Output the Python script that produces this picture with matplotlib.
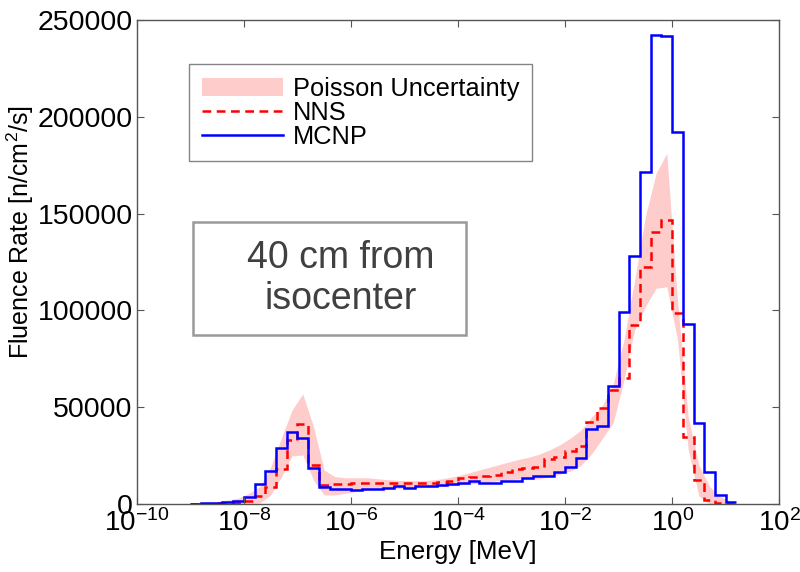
import numpy as np
import matplotlib
matplotlib.use('Agg')
import matplotlib.pyplot as plt
from matplotlib.patches import Rectangle

plt.rcParams['font.family'] = ['Liberation Sans', 'DejaVu Sans']
plt.rcParams['mathtext.fontset'] = 'custom'
plt.rcParams['mathtext.rm'] = 'Liberation Sans'
plt.rcParams['mathtext.it'] = 'Liberation Sans:italic'

## bin edges (log10 of energy in MeV), 0.2 decade bins
log_edges = np.round(np.arange(-9.0, 1.3, 0.2), 1)

## MCNP fluence rate per bin
mcnp = [200, 300, 500, 900, 1300,
	3800, 10200, 17000, 29000, 37000,
	34000, 18400, 9000, 7600, 7600,
	7300, 7500, 7800, 8100, 9300,
	8400, 9300, 9500, 9800, 10300,
	10700, 12000, 11000, 11000, 12000,
	12000, 13300, 14500, 14500, 16700,
	19300, 23600, 38600, 40300, 61000,
	99300, 128000, 171500, 242500, 241500,
	192000, 92800, 42000, 16700, 4700,
	1000]

## NNS unfolded fluence rate per bin
nns = [100, 150, 250, 400, 700,
	1500, 4000, 8600, 18000, 33000,
	41300, 20000, 10000, 10300, 10500,
	10700, 10700, 10800, 10800, 11000,
	11000, 11000, 11000, 11200, 12000,
	13300, 14000, 14200, 15000, 16700,
	17900, 18500, 19300, 23000, 24500,
	27500, 30000, 42500, 49500, 59000,
	65000, 92400, 122600, 140700, 146700,
	98800, 34800, 12400, 2000, 500,
	100]

## Poisson uncertainty band at bin centres
band_hi = [500, 800, 1200, 2000, 3000,
	5500, 9000, 19000, 34000, 48500,
	56800, 40000, 17500, 14100, 13500,
	13500, 13500, 13000, 12500, 12200,
	12000, 12000, 12300, 13000, 14000,
	15300, 16800, 18300, 19800, 21300,
	22800, 24000, 25500, 27800, 30500,
	34000, 38200, 45000, 51000, 62000,
	84700, 115700, 148400, 170800, 181200,
	105000, 45000, 20000, 9000, 3800,
	1200]
band_lo = [0, 0, 0, 0, 0,
	300, 500, 4600, 14000, 24800,
	25300, 12400, 4600, 4600, 5500,
	6500, 7000, 7500, 7800, 8000,
	8200, 8400, 8500, 9000, 9500,
	10000, 10500, 11000, 11800, 12300,
	12800, 12800, 12800, 14000, 15300,
	17000, 20000, 26000, 34000, 42000,
	63900, 89900, 101900, 111400, 112200,
	85000, 28000, 4000, 0, 0,
	0]

edges = 10.0 ** log_edges
centres = 10.0 ** ((log_edges[:-1] + log_edges[1:]) / 2)

fig = plt.figure(figsize=(8, 5.72), dpi=100)
ax = fig.add_axes([0.171, 0.119, 0.803, 0.846])

ax.fill_between(centres, band_lo, band_hi, color='#ffcccc', linewidth=0,
	label='Poisson Uncertainty')
ax.stairs(nns, edges, baseline=None, color='#ff0000', linewidth=1.8,
	linestyle=(0, (3.5, 2.2)), label='NNS')
ax.stairs(mcnp, edges, baseline=None, color='#0000ff', linewidth=1.8,
	label='MCNP')

ax.set_xscale('log')
ax.set_xlim(1e-10, 1e2)
ax.set_ylim(0, 250000)
ax.set_xticks([1e-10, 1e-8, 1e-6, 1e-4, 1e-2, 1e0, 1e2])
ax.xaxis.set_minor_locator(matplotlib.ticker.NullLocator())
ax.set_yticks([0, 50000, 100000, 150000, 200000, 250000])
ax.yaxis.set_major_formatter(matplotlib.ticker.FormatStrFormatter('%d'))
ax.tick_params(direction='in', top=True, right=True, length=5, width=0.8,
	color='#555555')
ax.tick_params(axis='x', labelsize=20, pad=4)
ax.tick_params(axis='y', labelsize=20.5, pad=3)
for s in ax.spines.values():
	s.set_color('#555555')
	s.set_linewidth(1.0)

ax.set_xlabel('Energy [MeV]', fontsize=18.7)
ax.xaxis.set_label_coords(0.5, -0.074)
ax.set_ylabel('Fluence Rate [n/cm$^2$/s]', fontsize=18)
ax.yaxis.set_label_coords(-0.157, 0.562)

leg = ax.legend(loc='upper left', bbox_to_anchor=(0.081, 0.909),
	borderaxespad=0, fontsize=18.3, fancybox=False, handlelength=3.2,
	labelspacing=0.0, borderpad=0.5, handletextpad=0.4)
leg.get_frame().set_edgecolor('#666666')
leg.get_frame().set_linewidth(1.0)

ax.add_patch(Rectangle((0.087, 0.349), 0.425, 0.234, transform=ax.transAxes,
	fill=False, edgecolor='#999999', linewidth=1.8))
ax.text(0.318, 0.466, '40 cm from\nisocenter', transform=ax.transAxes,
	ha='center', va='center', fontsize=27, color='#404040', linespacing=1.2)

fig.savefig('out.png', dpi=100)
